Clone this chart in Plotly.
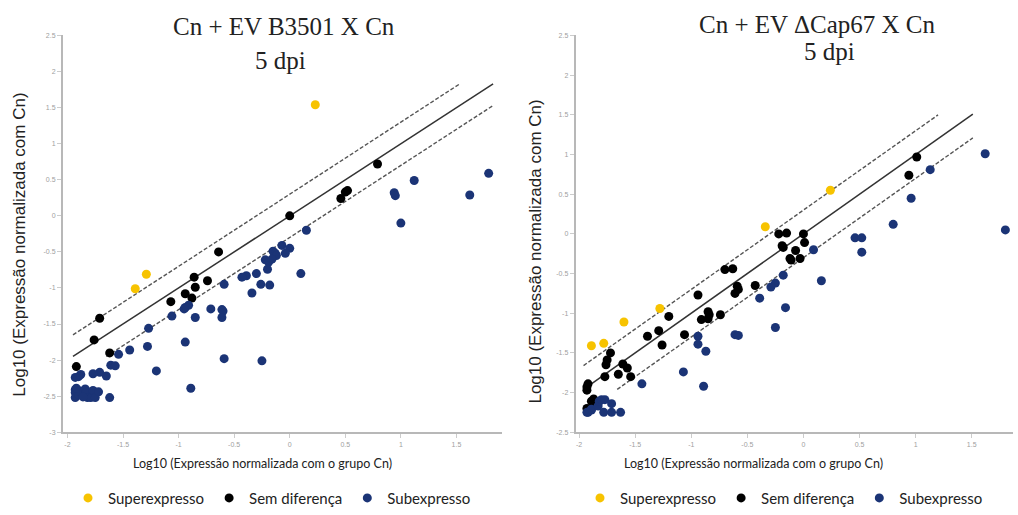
import plotly.graph_objects as go
from plotly.subplots import make_subplots

# ---------------- data: left panel (Cn + EV B3501 X Cn) ----------------
left_up_x = [0.23, -1.39, -1.29]
left_up_y = [1.54, -1.01, -0.81]

left_ns_x = [0.79, 0.52, 0.50, 0.46, 0.00, -0.64, -0.86, -0.74, -0.85, -0.94, -0.88, -1.07,
             -1.71, -1.76, -1.62, -1.92]
left_ns_y = [0.72, 0.35, 0.33, 0.24, 0.00, -0.50, -0.85, -0.90, -0.99, -1.08, -1.14, -1.19,
             -1.42, -1.72, -1.90, -2.09]

left_down_x = [1.79, 1.62, 1.12, 0.94, 0.95, 1.00, 0.15, -0.07, 0.00, -0.15, -0.13, -0.04,
               -0.12, -0.22, -0.19, -0.16, -0.20, 0.10, -0.30, -0.39, -0.43, -0.26, -0.18,
               -0.59, -0.34, -0.71, -0.61, -0.60, -0.61, -0.85, -0.91, -0.94, -0.95, -1.06,
               -1.27, -1.28, -1.44, -1.54, -0.94, -0.59, -0.25, -1.20, -0.89, -1.61, -1.57,
               -1.65, -1.71, -1.77, -1.88, -1.90, -1.93, -1.62,
               -1.93, -1.93, -1.93, -1.90, -1.89, -1.84, -1.83, -1.82, -1.79, -1.77, -1.75,
               -1.72, -1.92, -1.86]
left_down_y = [0.59, 0.29, 0.49, 0.32, 0.28, -0.10, -0.20, -0.41, -0.45, -0.49, -0.52, -0.52,
               -0.55, -0.61, -0.64, -0.60, -0.74, -0.80, -0.80, -0.83, -0.85, -0.95, -0.96,
               -0.95, -1.07, -1.29, -1.30, -1.32, -1.41, -1.41, -1.24, -1.27, -1.29, -1.39,
               -1.56, -1.81, -1.86, -1.92, -1.75, -1.98, -2.01, -2.15, -2.39, -2.07, -2.08,
               -2.22, -2.17, -2.19, -2.20, -2.23, -2.24, -2.52,
               -2.41, -2.45, -2.52, -2.48, -2.43, -2.40, -2.45, -2.52, -2.52, -2.42, -2.52,
               -2.44, -2.39, -2.51]

left_fit_x = [-1.95, 1.83]
left_fit_y = [-1.95, 1.83]
left_upper_x = [-1.95, 1.53]
left_upper_y = [-1.65, 1.83]
left_lower_x = [-1.65, 1.83]
left_lower_y = [-1.95, 1.53]

# ---------------- data: right panel (Cn + EV ΔCap67 X Cn) ----------------
right_up_x = [0.24, -0.34, -1.28, -1.60, -1.89, -1.78]
right_up_y = [0.55, 0.09, -0.94, -1.11, -1.41, -1.38]

right_ns_x = [1.01, 0.94, -0.22, -0.15, 0.00, 0.01, -0.19, -0.18, -0.07, -0.12, -0.11, -0.03,
              -0.70, -0.63, -0.59, -0.58, -0.61, -0.43, -0.94, -0.85, -0.84, -0.85, -0.91,
              -0.74, -1.06, -1.20, -1.29, -1.26, -1.39, -1.54, -1.57, -1.61, -1.65, -1.72,
              -1.75, -1.76, -1.77, -1.92, -1.93, -1.93, -1.87, -1.89, -1.86, -1.93]
right_ns_y = [0.97, 0.74, 0.00, 0.01, 0.00, -0.11, -0.15, -0.17, -0.21, -0.31, -0.33, -0.31,
              -0.45, -0.44, -0.66, -0.70, -0.75, -0.65, -0.77, -0.98, -1.02, -1.07, -1.08,
              -1.02, -1.27, -1.04, -1.22, -1.40, -1.29, -1.80, -1.69, -1.64, -1.77, -1.50,
              -1.59, -1.65, -1.80, -1.89, -1.93, -1.97, -2.08, -2.11, -2.13, -2.20]

right_down_x = [1.62, 1.13, 0.96, 0.80, 1.80, 0.46, 0.52, 0.52, 0.09, 0.16, -0.18, -0.25,
                -0.29, -0.39, -0.16, -0.25, -0.61, -0.58, -0.94, -0.94, -0.87, -0.89, -1.07,
                -1.44, -1.92, -1.89, -1.89, -1.83, -1.82, -1.80, -1.77, -1.78, -1.71, -1.71,
                -1.63, -1.93]
right_down_y = [1.01, 0.81, 0.45, 0.12, 0.05, -0.05, -0.05, -0.23, -0.20, -0.59, -0.52, -0.62,
                -0.67, -0.81, -0.93, -1.18, -1.27, -1.28, -1.29, -1.39, -1.48, -1.92, -1.74,
                -1.89, -2.25, -2.22, -2.21, -2.17, -2.11, -2.09, -2.09, -2.25, -2.14, -2.25,
                -2.25, -2.25]

right_fit_x = [-1.95, 1.51]
right_fit_y = [-1.95, 1.51]
right_upper_x = [-1.96, 1.20]
right_upper_y = [-1.66, 1.50]
right_lower_x = [-1.66, 1.51]
right_lower_y = [-1.96, 1.21]

# ---------------- ticks and labels ----------------
x_tick_vals = [-2, -1.5, -1, -0.5, 0, 0.5, 1, 1.5]
x_tick_text = ["-2", "-1.5", "-1", "-0.5", "0", "0.5", "1", "1.5"]
left_y_tick_vals = [-3, -2.5, -2, -1.5, -1, -0.5, 0, 0.5, 1, 1.5, 2, 2.5]
left_y_tick_text = ["-3", "-2.5", "-2", "-1.5", "-1", "-0.5", "0", "0.5", "1", "1.5", "2", "2.5"]
right_y_tick_vals = [-2.5, -2, -1.5, -1, -0.5, 0, 0.5, 1, 1.5, 2, 2.5]
right_y_tick_text = ["-2.5", "-2", "-1.5", "-1", "-0.5", "0", "0.5", "1", "1.5", "2", "2.5"]

group_names = ["Superexpresso", "Sem diferença", "Subexpresso"]
group_colors = ["#f7c300", "#000000", "#1b3476"]

left_title = "Cn + EV B3501 X Cn"
right_title = "Cn + EV ΔCap67 X Cn"
subtitle = "5 dpi"
y_title = "Log10 (Expressão normalizada com Cn)"
x_title = "Log10 (Expressão normalizada com o grupo Cn)"

W, H = 1018, 515
fig = make_subplots(rows=1, cols=2)

narrow_font = "Lato, Liberation Sans, sans-serif"

def add_panel(col, legend, pts, lines):
    for (lx, ly, dash, color, width) in lines:
        fig.add_trace(go.Scatter(x=lx, y=ly, mode="lines", showlegend=False, hoverinfo="skip",
                                 line=dict(color=color, width=width, dash=dash)), row=1, col=col)
    for (name, color, (px, py)) in zip(group_names, group_colors, pts):
        fig.add_trace(go.Scatter(x=px, y=py, mode="markers", name=name, legend=legend,
                                 marker=dict(color=color, size=9, line=dict(width=0))),
                      row=1, col=col)

add_panel(1, "legend",
          [(left_up_x, left_up_y), (left_ns_x, left_ns_y), (left_down_x, left_down_y)],
          [(left_fit_x, left_fit_y, "solid", "#333333", 1.5),
           (left_upper_x, left_upper_y, "4px,2px", "#555555", 1.4),
           (left_lower_x, left_lower_y, "4px,2px", "#555555", 1.4)])
add_panel(2, "legend2",
          [(right_up_x, right_up_y), (right_ns_x, right_ns_y), (right_down_x, right_down_y)],
          [(right_fit_x, right_fit_y, "solid", "#333333", 1.5),
           (right_upper_x, right_upper_y, "4px,2px", "#555555", 1.4),
           (right_lower_x, right_lower_y, "4px,2px", "#555555", 1.4)])

ydom = [(H - 437) / H, (H - 33) / H]
axis_common = dict(showline=True, linecolor="#b8b8b8", linewidth=2, ticks="outside",
                   ticklen=4, tickcolor="#cccccc", tickwidth=1, showgrid=False, zeroline=False,
                   tickfont=dict(size=7, color="#a0a0a0", family="Arial, Liberation Sans, sans-serif"))

legend_common = dict(orientation="h", xanchor="left", yanchor="middle",
                     font=dict(size=15, family=narrow_font, color="#222"), itemwidth=30,
                     bgcolor="rgba(0,0,0,0)")

fig.update_layout(
    width=W, height=H, margin=dict(l=0, r=0, t=0, b=0),
    paper_bgcolor="white", plot_bgcolor="white",
    xaxis=dict(domain=[63 / W, 502 / W], range=[-2.04, 1.91], tickvals=x_tick_vals,
               ticktext=x_tick_text, **axis_common),
    yaxis=dict(domain=ydom, range=[-3.002, 2.502], tickvals=left_y_tick_vals,
               ticktext=left_y_tick_text, **axis_common),
    xaxis2=dict(domain=[575.7 / W, 1013 / W], range=[-2.03, 1.868], tickvals=x_tick_vals,
                ticktext=x_tick_text, **axis_common),
    yaxis2=dict(domain=ydom, range=[-2.502, 2.502], tickvals=right_y_tick_vals,
                ticktext=right_y_tick_text, **axis_common),
    legend=dict(x=68 / W, y=1 - 504 / H, **legend_common),
    legend2=dict(x=580 / W, y=1 - 504 / H, **legend_common),
)

serif = "Liberation Serif, Times New Roman, serif"
sans = "Arial, Liberation Sans, sans-serif"
ann = [
    (284, 24, left_title, serif, 25, 0),
    (280, 59, subtitle, serif, 25, 0),
    (817, 22, right_title, serif, 25, 0),
    (829, 49, subtitle, serif, 25, 0),
    (20, 246, y_title, sans, 17, -90),
    (536, 253, y_title, sans, 17, -90),
    (262, 469, x_title, narrow_font, 12.5, 0),
    (753, 469, x_title, narrow_font, 12.5, 0),
]
for (px, py, txt, fam, sz, ang) in ann:
    fig.add_annotation(x=px / W, y=1 - py / H, xref="paper", yref="paper", text=txt,
                       showarrow=False, textangle=ang, xanchor="center", yanchor="middle",
                       font=dict(family=fam, size=sz, color="#222"))

fig.write_html("out.html")
